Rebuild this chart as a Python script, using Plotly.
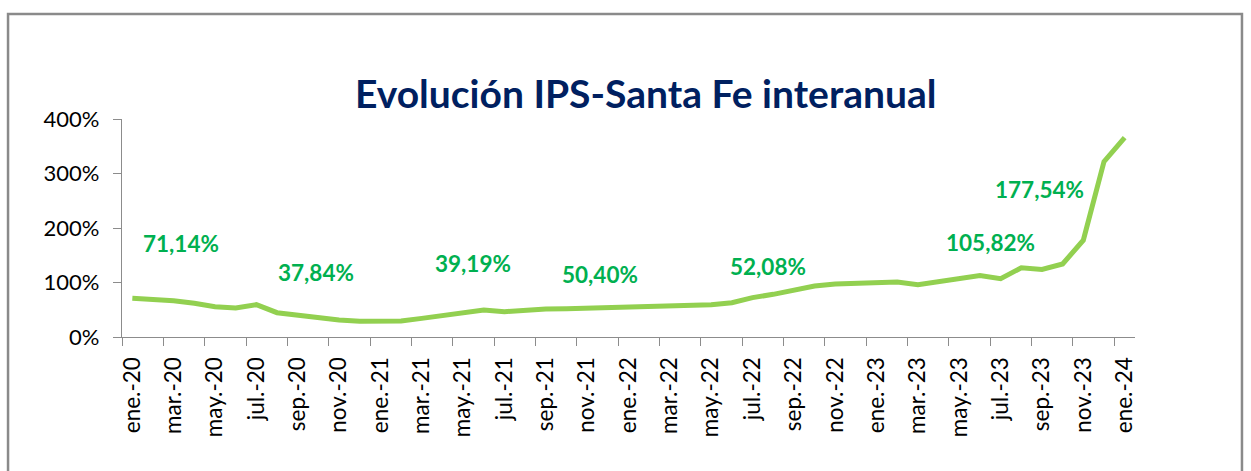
import plotly.graph_objects as go

months = ["ene.", "feb.", "mar.", "abr.", "may.", "jun.", "jul.", "ago.", "sep.", "oct.", "nov.", "dic."]
categories = [f"{m}-{y}" for y in ["20", "21", "22", "23"] for m in months] + ["ene.-24"]

values = [
    71.14, 69.7, 66.6, 61.8, 55.7, 53.2, 59.3, 44.6, 39.8, 36.1, 31.2, 28.8,
    29.4, 29.4, 34.2, 39.8, 45.3, 49.5, 46.5, 49.5, 51.4, 52.0, 53.2, 54.4,
    54.4, 56.9, 58.1, 58.7, 59.3, 63.0, 72.2, 78.3, 86.2, 93.6, 97.2, 97.9,
    97.9, 100.9, 96.0, 101.0, 105.82, 113.0, 107.0, 127.0, 124.0, 134.0, 177.54, 321.7,
    365.81,
]

y_tickvals = [0, 100, 200, 300, 400]
y_ticktext = ["0%", "100%", "200%", "300%", "400%"]

label_texts = ["71,14%", "37,84%", "39,19%", "50,40%", "52,08%", "105,82%", "177,54%", "365,81%"]
label_x = [2.37, 8.86, 16.5, 22.6, 30.75, 41.5, 43.9, 51.5]
label_y = [172, 119, 134, 114, 130, 174, 270, 405]

title_text = "Evolución IPS-Santa Fe interanual"

fig = go.Figure()
fig.add_trace(go.Scatter(
    x=categories, y=values, mode="lines",
    line=dict(color="#92D050", width=5),
    hoverinfo="skip", showlegend=False,
))

for t, x, y in zip(label_texts, label_x, label_y):
    fig.add_annotation(x=x, y=y, xref="x", yref="y", text=t, showarrow=False,
                       font=dict(family="Lato", size=22.5, color="#00B050", weight="bold"),
                       xanchor="center", yanchor="middle")

fig.add_annotation(x=0.517, y=1.12, xref="paper", yref="paper", text=title_text,
                   showarrow=False, xanchor="center", yanchor="middle",
                   font=dict(family="Lato", size=39, color="#002060", weight="bold"))

fig.add_shape(type="rect", xref="paper", yref="paper",
              x0=-0.1125, x1=1.1056, y0=-0.7, y1=1.4817,
              line=dict(color="#8a8a8a", width=2.5), fillcolor="rgba(0,0,0,0)", layer="above")

fig.update_layout(
    width=1251, height=471,
    margin=dict(l=122, r=116, t=119, b=134),
    paper_bgcolor="white", plot_bgcolor="white",
    font=dict(family="Lato", size=20, color="#000000"),
)
fig.update_xaxes(
    type="category", categoryorder="array", categoryarray=categories,
    dtick=2, tickson="boundaries", ticks="outside", ticklen=8, tickwidth=1,
    tickcolor="#8c8c8c", showline=True, linecolor="#8c8c8c", linewidth=1.3,
    tickangle=-90, showgrid=False, zeroline=False, ticklabelstandoff=10,
    tickfont=dict(family="Lato", size=22.5, color="#000000"),
    range=[-0.5, 48.5],
)
fig.update_yaxes(
    range=[0, 400], tickvals=y_tickvals, ticktext=y_ticktext,
    ticks="outside", ticklen=8, tickwidth=1, tickcolor="#8c8c8c",
    showline=True, linecolor="#8c8c8c", linewidth=1.3,
    showgrid=False, zeroline=False, ticklabelstandoff=9,
    tickfont=dict(family="Lato", size=22, color="#000000"),
)

fig.write_html("out.html")
